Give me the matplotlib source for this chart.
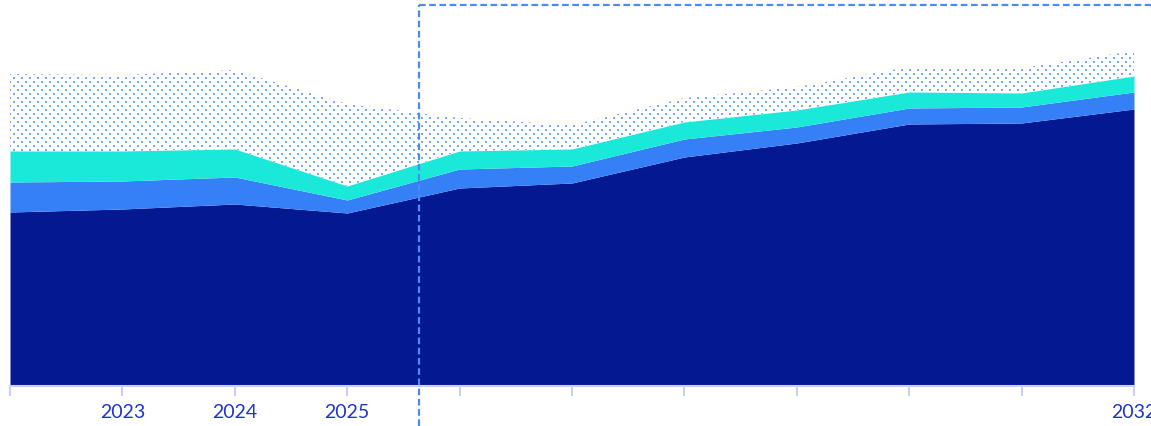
import numpy as np
import matplotlib.pyplot as plt
from matplotlib.patches import Polygon
from matplotlib.lines import Line2D

plt.rcParams['font.family'] = ['Lato', 'DejaVu Sans']

# Datos por año (unidades apiladas)
years = np.arange(2022, 2033)
base = [174, 177, 182, 173, 198, 203, 229, 243, 262, 263, 277]
middle = [30, 28, 27, 13, 19, 17, 18, 16, 16, 16, 17]
upper = [31, 30, 28, 14, 18, 17, 17, 17, 16, 14, 16]
band = [77, 76, 79, 82, 33, 24, 24, 23, 25, 25, 25]

tick_labels = ['', '2023', '2024', '2025', '', '', '', '', '', '', '2032']
forecast_start = 2025.64

navy = '#041891'
blue = '#3580f6'
cyan = '#1ae9da'
dot_color = '#7aa7f7'
dash_color = '#4d8af0'
axis_color = '#c8d0f8'
label_color = '#1f35c8'

W, H = 1151, 426
fig = plt.figure(figsize=(W / 100, H / 100), dpi=100)
ax = fig.add_axes([10 / W, 40 / H, 1124 / W, 381 / H])

y0 = np.zeros(len(years))
y1 = y0 + np.array(base)
y2 = y1 + np.array(middle)
y3 = y2 + np.array(upper)
y4 = y3 + np.array(band)

ax.fill_between(years, y0, y1, color=navy, lw=0)
ax.fill_between(years, y1, y2, color=blue, lw=0)
ax.fill_between(years, y2, y3, color=cyan, lw=0)

# Banda punteada: rejilla de puntos recortada al polígono
verts = np.column_stack([np.concatenate([years, years[::-1]]),
                         np.concatenate([y3, y4[::-1]])])
clip = Polygon(verts, closed=True, facecolor='none', edgecolor='none')
ax.add_patch(clip)

px_x = (years[-1] - years[0]) / 1124.0
px_y = 1.0
gx, gy = [], []
for j, yy in enumerate(np.arange(0, 381, 4.0)):
    off = 4.0 if j % 2 else 0.0
    for xx in np.arange(off, 1130, 8.0):
        gx.append(years[0] + xx * px_x)
        gy.append(yy * px_y)
dots = ax.scatter(gx, gy, marker='s', s=2.4, color=dot_color, lw=0)
dots.set_clip_path(clip)

ax.set_xlim(years[0], years[-1])
ax.set_ylim(0, 381)
ax.set_yticks([])
ax.set_xticks(years)
ax.set_xticklabels(tick_labels)
ax.tick_params(axis='x', length=7, width=1.5, color=axis_color,
               labelcolor=label_color, labelsize=14, pad=6)
for s in ['top', 'right', 'left']:
    ax.spines[s].set_visible(False)
ax.spines['bottom'].set_color(axis_color)
ax.spines['bottom'].set_linewidth(1.5)

# Recuadro de pronóstico
fx = 10 / W + (forecast_start - years[0]) / (years[-1] - years[0]) * 1124 / W
top = (H - 5) / H
fig.add_artist(Line2D([fx, fx], [0, top], color=dash_color, lw=1.6,
                      linestyle=(0, (3, 1.6))))
fig.add_artist(Line2D([fx, 1.0], [top, top], color=dash_color, lw=1.6,
                      linestyle=(0, (3, 1.6))))

fig.savefig('out.png', dpi=100)
